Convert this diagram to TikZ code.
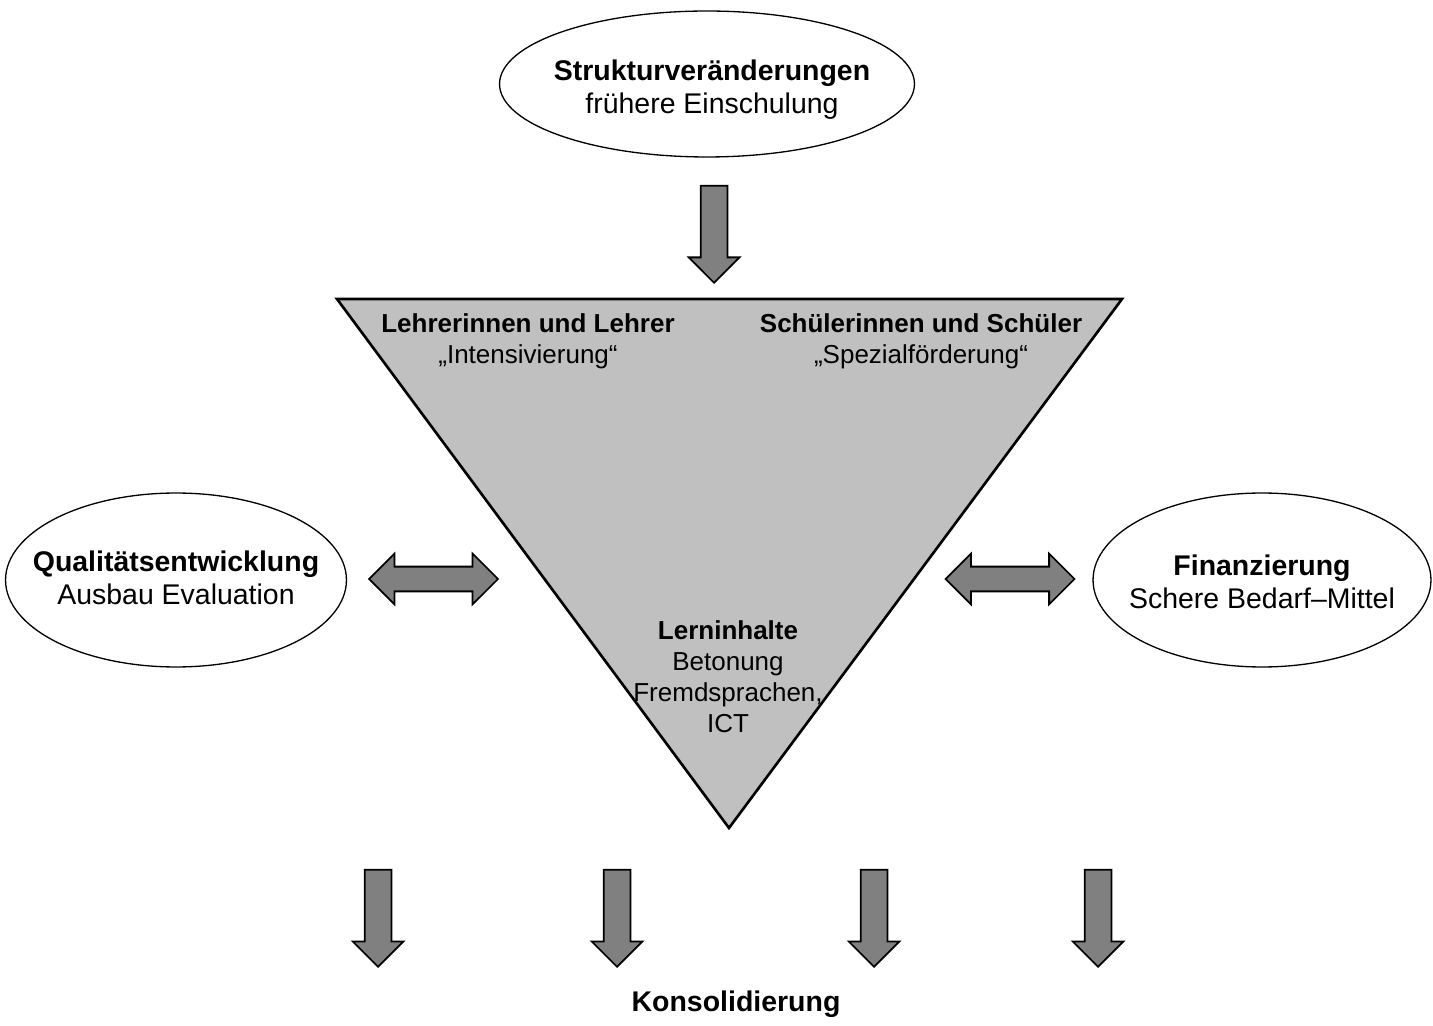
\documentclass[tikz,border=0pt]{standalone}
\usepackage{fontspec}
\setmainfont{Liberation Sans}
\usepackage{tikz}
\usetikzlibrary{shapes.geometric, shapes.arrows}
\definecolor{pfeilgrau}{RGB}{128,128,128}
\definecolor{dreieckgrau}{RGB}{192,192,192}
\tikzset{blase/.style={ellipse, draw, line width=.75pt, inner sep=0pt}}
\tikzset{pfeil/.style={single arrow, draw, fill=pfeilgrau, line width=1pt, inner sep=.25cm,
    minimum height=1.94cm, single arrow head extend=.24cm, shape border rotate=270}}
\tikzset{doppelpfeil/.style={double arrow, draw, fill=pfeilgrau, line width=1pt, inner sep=.23cm,
    minimum height=2.58cm, double arrow head extend=.26cm}}
\tikzset{dreieck/.style={draw, fill=dreieckgrau, line width=1.5pt, line join=miter}}
\tikzset{etikett/.style={align=center, inner sep=0pt, font=\fontsize{14.8pt}{17.6pt}\selectfont}}
\tikzset{gross/.style={align=center, inner sep=0pt, font=\fontsize{16.2pt}{18.8pt}\selectfont}}
\newcommand{\pfeilab}[1]{ node[pfeil, anchor=tip, name={#1}] {}}
\newcommand{\doppel}[1]{ node[doppelpfeil, name={#1}] {}}

\begin{document}
\begin{tikzpicture}[x=.02cm, y=-.02cm]
  \useasboundingbox (0,0) rectangle (1433,1026);

  % --- Strukturveraenderungen ---
  \node[blase, minimum width=8.3cm, minimum height=2.92cm] (struktur) at (707,84) {};
  \node[gross] (strukturtext) at (712,90) {\textbf{Strukturveränderungen}\\frühere Einschulung};
  \draw (714,284) \pfeilab{oben};

  % --- Dreieck ---
  \coordinate (ecklinks) at (337,299);
  \coordinate (eckrechts) at (1122,299);
  \coordinate (spitze) at (729,828);
  \draw[dreieck] (ecklinks) -- (eckrechts) -- (spitze) -- cycle;

  \node[etikett] (lehrer) at (528,341) {\textbf{Lehrerinnen und Lehrer}\\„Intensivierung“};
  \node[etikett] (schueler) at (921,341) {\textbf{Schülerinnen und Schüler}\\„Spezialförderung“};
  \node[etikett] (inhalte) at (728,677)
    {\textbf{Lerninhalte}\\Betonung\\Fremdsprachen,\\ICT};

  % --- links / rechts ---
  \node[blase, minimum width=6.82cm, minimum height=3.48cm] (qualitaet) at (176,580) {};
  \node[gross] (qualitaettext) at (176,578) {\textbf{Qualitätsentwicklung}\\Ausbau Evaluation};
  \node[blase, minimum width=6.76cm, minimum height=3.48cm] (finanz) at (1262,580) {};
  \node[gross] (finanztext) at (1262,582) {\textbf{Finanzierung}\\Schere Bedarf–Mittel};

  \draw (433.5,579) \doppel{linkspfeil};
  \draw (1010,579) \doppel{rechtspfeil};

  % --- Konsolidierung ---
  \draw (378,968) \pfeilab{ab1};
  \draw (617,968) \pfeilab{ab2};
  \draw (874,968) \pfeilab{ab3};
  \draw (1098,968) \pfeilab{ab4};

  \node[gross] (konsolidierung) at (736,1004) {\textbf{Konsolidierung}};
\end{tikzpicture}
\end{document}
